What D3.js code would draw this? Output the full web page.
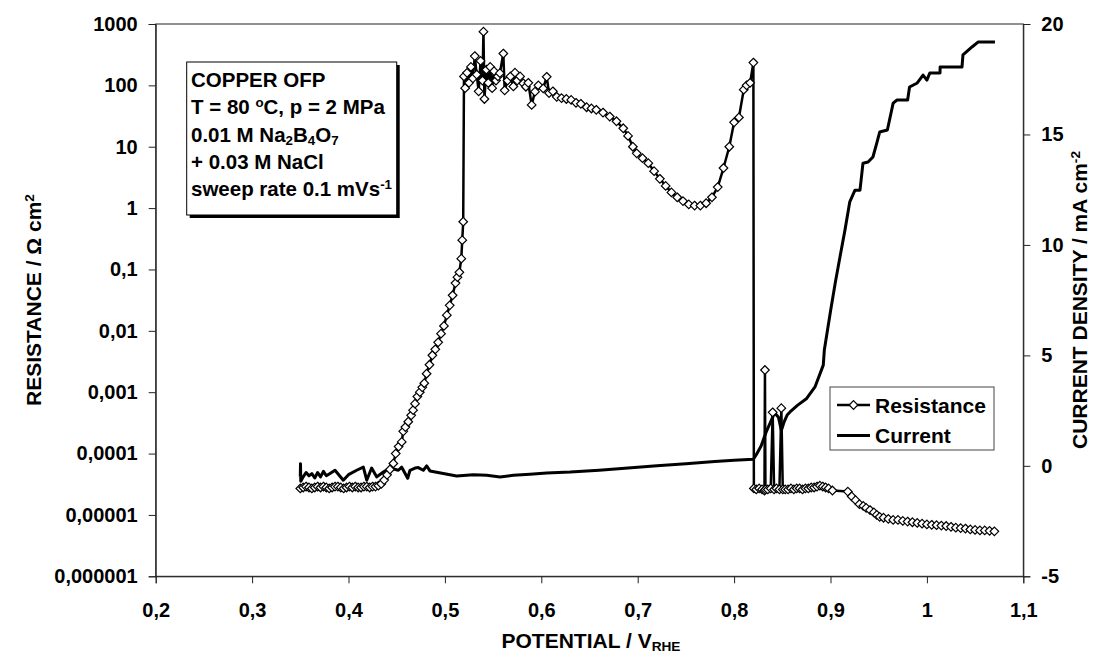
<!DOCTYPE html>
<html><head><meta charset="utf-8">
<script src="https://cdn.jsdelivr.net/npm/d3@7"></script>
<style>
body{margin:0;background:#fff}
text{font-family:"Liberation Sans",Arial,sans-serif;font-weight:bold;fill:#000}
</style>
</head><body>
<svg id="c" width="1099" height="657"></svg>
<script>
// ---- data ----
const potentialR = [
0.350,0.353,0.356,0.359,0.362,0.365,0.368,0.371,0.374,0.377,
0.380,0.383,0.386,0.389,0.392,0.395,0.398,0.401,0.404,0.407,
0.410,0.413,0.416,0.419,0.422,0.425,0.428,0.431,0.434,0.437,
0.440,0.443,0.4465,0.449,0.452,0.4552,0.4568,0.459,0.462,0.465,
0.467,0.469,0.4714,0.474,0.4765,0.4786,0.481,0.484,0.487,0.490,
0.493,0.496,0.499,0.502,0.505,0.508,0.511,0.513,0.515,0.517,
0.518,0.519,0.5198,0.521,0.523,0.525,0.527,0.529,0.531,0.533,
0.535,0.537,0.539,0.540,0.541,0.543,0.545,0.547,0.549,0.551,
0.553,0.555,0.557,0.5606,0.562,0.565,0.568,0.571,0.5727,0.575,
0.578,0.5813,0.584,0.5865,0.590,0.5935,0.597,0.602,0.6056,0.608,
0.612,0.616,0.621,0.626,0.631,0.636,0.641,0.647,0.652,0.657,
0.664,0.671,0.678,0.685,0.690,0.695,0.699,0.705,0.711,0.717,
0.723,0.729,0.735,0.741,0.747,0.753,0.759,0.765,0.771,0.777,
0.783,0.789,0.795,0.800,0.805,0.810,0.813,0.8166,0.820,0.8205,
0.823,0.826,0.829,0.8315,0.832,0.8325,0.835,0.838,0.840,0.8415,
0.844,0.847,0.849,0.8505,0.853,0.856,0.859,0.862,0.865,0.868,
0.871,0.874,0.877,0.880,0.883,0.886,0.889,0.892,0.895,0.898,
0.902,0.918,0.922,0.926,0.930,0.934,0.937,0.941,0.945,0.948,
0.951,0.955,0.960,0.965,0.970,0.975,0.980,0.985,0.990,0.995,
1.000,1.005,1.010,1.015,1.020,1.025,1.030,1.035,1.040,1.045,
1.050,1.055,1.060,1.065,1.070
];
const resistance = [
2.7e-5,2.8e-5,2.9e-5,2.8e-5,2.7e-5,2.8e-5,2.9e-5,2.8e-5,2.9e-5,2.8e-5,
2.7e-5,2.8e-5,2.9e-5,2.9e-5,2.8e-5,2.7e-5,2.8e-5,2.9e-5,2.8e-5,2.9e-5,
2.8e-5,2.8e-5,2.9e-5,2.9e-5,2.8e-5,2.9e-5,2.9e-5,3.0e-5,3.2e-5,3.7e-5,
4.5e-5,5.5e-5,6.9e-5,1.0e-4,1.3e-4,1.55e-4,2.3e-4,2.7e-4,3.3e-4,4.2e-4,
5.1e-4,6.5e-4,8.5e-4,1.0e-3,1.2e-3,1.4e-3,2.0e-3,2.8e-3,4.0e-3,5.0e-3,
6.5e-3,9.0e-3,1.2e-2,1.8e-2,2.6e-2,3.8e-2,6.0e-2,7.5e-2,9.0e-2,0.15,
0.3,0.6,140,90,160,110,200,130,300,150,
80,250,120,750,60,180,110,200,90,170,
120,140,158,330,83,120,140,96,161,120,
140,108,95,110,48,79,100,89,138,75,
80,65,62,60,58,52,50,44,42,40,
36,31,26,20,15,10,7.8,6.5,5.4,4.0,
3.0,2.3,1.8,1.5,1.3,1.15,1.1,1.1,1.2,1.5,
2.2,4.5,10,25,30,85,100,110,235,2.7e-5,
2.6e-5,2.7e-5,2.6e-5,2.5e-5,2.3e-3,2.6e-5,2.6e-5,2.7e-5,4.7e-4,2.6e-5,
2.7e-5,2.6e-5,5.5e-4,2.6e-5,2.6e-5,2.6e-5,2.7e-5,2.6e-5,2.7e-5,2.7e-5,
2.6e-5,2.7e-5,2.7e-5,2.8e-5,2.8e-5,2.9e-5,3.0e-5,2.9e-5,2.8e-5,2.7e-5,
2.5e-5,2.4e-5,2.0e-5,1.74e-5,1.5e-5,1.4e-5,1.3e-5,1.2e-5,1.1e-5,1.0e-5,
9.3e-6,9.0e-6,8.6e-6,8.3e-6,8.3e-6,8.0e-6,7.8e-6,7.6e-6,7.4e-6,7.2e-6,
7.0e-6,6.9e-6,6.8e-6,6.7e-6,6.6e-6,6.4e-6,6.2e-6,6.1e-6,6.0e-6,5.8e-6,
5.7e-6,5.6e-6,5.6e-6,5.5e-6,5.4e-6
];
const potentialI = [
0.350,0.3502,0.3505,0.353,0.356,0.359,0.362,0.365,0.368,0.371,
0.374,0.377,0.3808,0.386,0.3946,0.400,0.4085,0.4154,0.4189,0.424,
0.4293,0.4361,0.443,0.4517,0.4552,0.4614,0.4638,0.469,0.4724,0.4776,
0.4811,0.4845,0.4983,0.5122,0.5295,0.5434,0.5572,0.571,0.5883,0.6056,
0.63,0.66,0.69,0.72,0.75,0.78,0.80,0.82,0.823,0.828,
0.833,0.838,0.842,0.846,0.849,0.852,0.855,0.858,0.866,0.8753,
0.8839,0.8925,0.8936,0.900,0.905,0.910,0.915,0.920,0.9254,0.9306,
0.9337,0.939,0.944,0.948,0.951,0.959,0.965,0.969,0.980,0.982,
0.990,0.996,1.000,1.003,1.0136,1.0137,1.0364,1.0374,1.0468,1.053,
1.0706
];
const currentDensity = [
-0.5,0.1,-0.7,-0.5,-0.3,-0.45,-0.35,-0.55,-0.3,-0.5,
-0.25,-0.45,-0.35,-0.2,-0.65,-0.4,-0.2,-0.06,-0.65,-0.1,
-0.5,-0.28,-0.1,-0.2,-0.06,-0.56,-0.2,-0.1,-0.08,-0.2,
0.0,-0.23,-0.35,-0.46,-0.4,-0.43,-0.5,-0.43,-0.38,-0.32,
-0.28,-0.2,-0.1,0.0,0.1,0.2,0.25,0.3,0.5,0.9,
1.5,2.0,2.4,2.2,1.6,2.0,2.3,2.44,2.75,3.05,
3.57,4.56,5.24,7.0,8.3,9.5,10.67,11.95,12.48,12.48,
13.70,13.75,13.98,14.61,15.11,15.2,16.42,16.56,16.56,17.15,
17.33,17.69,17.46,17.78,17.78,18.05,18.05,18.6,18.96,19.18,
19.18
];
const xTicks = [0.2,0.3,0.4,0.5,0.6,0.7,0.8,0.9,1.0,1.1];
const xTickLabels = ["0,2","0,3","0,4","0,5","0,6","0,7","0,8","0,9","1","1,1"];
const leftTicks = [1000,100,10,1,0.1,0.01,0.001,0.0001,0.00001,0.000001];
const leftTickLabels = ["1000","100","10","1","0,1","0,01","0,001","0,0001","0,00001","0,000001"];
const rightTicks = [-5,0,5,10,15,20];
const seriesNames = ["Resistance","Current"];
const noteLines = [
  [["COPPER OFP",""]],
  [["T = 80 ",""],["o","sup"],["C, p = 2 MPa",""]],
  [["0.01 M Na",""],["2","sub"],["B",""],["4","sub"],["O",""],["7","sub"]],
  [["+ 0.03 M NaCl",""]],
  [["sweep rate 0.1 mVs",""],["-1","sup"]]
];

// ---- layout ----
const L = 155.7, R = 1023.3, T = 24, B = 576.3;
const svg = d3.select("#c");
const x = d3.scaleLinear().domain([0.2,1.1]).range([L,R]);
const yL = d3.scaleLog().domain([1e-6,1e3]).range([B,T]);
const yR = d3.scaleLinear().domain([-5,20]).range([B,T]);

function rich(sel, parts){
  parts.forEach(([s,m])=>{
    const t = sel.append("tspan").text(s);
    if(m==="sup") t.attr("baseline-shift","7").attr("font-size","65%");
    if(m==="sub") t.attr("baseline-shift","-3").attr("font-size","65%");
  });
}

// frame
svg.append("rect").attr("x",L).attr("y",T).attr("width",R-L).attr("height",B-T)
  .attr("fill","none").attr("stroke","#222").attr("stroke-width",1);

// axes
const axL = svg.append("g").attr("transform",`translate(${L},0)`)
  .call(d3.axisLeft(yL).tickValues(leftTicks).tickFormat((d,i)=>leftTickLabels[i]).tickSize(7).tickPadding(11));
const axR = svg.append("g").attr("transform",`translate(${R},0)`)
  .call(d3.axisRight(yR).tickValues(rightTicks).tickFormat(d=>String(d)).tickSize(7).tickPadding(11));
const axB = svg.append("g").attr("transform",`translate(0,${B})`)
  .call(d3.axisBottom(x).tickValues(xTicks).tickFormat((d,i)=>xTickLabels[i]).tickSize(7).tickPadding(20));
[axL,axR,axB].forEach(g=>{
  g.select(".domain").attr("stroke","#222");
  g.selectAll(".tick line").attr("stroke","#222");
  g.selectAll("text").attr("font-size",20).attr("font-family",'"Liberation Sans",Arial,sans-serif').attr("font-weight","bold").attr("fill","#000");
});

// axis titles
const tl = svg.append("text").attr("transform","translate(41,300) rotate(-90)").attr("text-anchor","middle").attr("font-size",21);
rich(tl, [["RESISTANCE / Ω cm",""],["2","sup"]]);
const tr = svg.append("text").attr("transform","translate(1087,300) rotate(-90)").attr("text-anchor","middle").attr("font-size",21);
rich(tr, [["CURRENT DENSITY / mA cm",""],["-2","sup"]]);
const tb = svg.append("text").attr("x",591).attr("y",648).attr("text-anchor","middle").attr("font-size",21);
rich(tb, [["POTENTIAL / V",""],["RHE","sub"]]);

// data series
const resData = potentialR.map((p,i)=>({p, v:resistance[i]}));
const curData = potentialI.map((p,i)=>({p, v:currentDensity[i]}));
svg.append("defs").append("clipPath").attr("id","pc").append("rect")
  .attr("x",L).attr("y",T-1).attr("width",R-L).attr("height",B-T+2);
const plot = svg.append("g").attr("clip-path","url(#pc)");

plot.append("path").datum(curData)
  .attr("d", d3.line().x(d=>x(d.p)).y(d=>yR(d.v)))
  .attr("fill","none").attr("stroke","#000").attr("stroke-width",3).attr("stroke-linejoin","round");
plot.append("path").datum(resData)
  .attr("d", d3.line().x(d=>x(d.p)).y(d=>yL(d.v)))
  .attr("fill","none").attr("stroke","#000").attr("stroke-width",2.5).attr("stroke-linejoin","round");
const dia = r => `M0,${-r}L${r},0L0,${r}L${-r},0Z`;
plot.selectAll("path.mk").data(resData).join("path").attr("class","mk")
  .attr("transform",d=>`translate(${x(d.p)},${yL(d.v)})`)
  .attr("d",dia(4.3)).attr("fill","#fff").attr("stroke","#000").attr("stroke-width",1.2);

// annotation box
const nb = svg.append("g");
const shadow = nb.append("rect").attr("fill","#000");
const box = nb.append("rect").attr("fill","#fff").attr("stroke","#000").attr("stroke-width",1);
let maxW = 0;
noteLines.forEach((ln,i)=>{
  const t = nb.append("text").attr("x",191).attr("y",87+i*27.3).attr("font-size",20.5);
  rich(t, ln);
  maxW = Math.max(maxW, t.node().getComputedTextLength());
});
const bx=186.7, by=62, bw=maxW+9, bh=153;
box.attr("x",bx).attr("y",by).attr("width",bw).attr("height",bh);
shadow.attr("x",bx+3).attr("y",by+3).attr("width",bw).attr("height",bh);
box.lower(); shadow.lower();

// legend
const lg = svg.append("g");
lg.append("rect").attr("x",830).attr("y",387).attr("width",164).attr("height",63)
  .attr("fill","#fff").attr("stroke","#444").attr("stroke-width",1);
seriesNames.forEach((n,i)=>{
  const yy = 405 + i*30.5;
  lg.append("line").attr("x1",837).attr("x2",870).attr("y1",yy).attr("y2",yy)
    .attr("stroke","#000").attr("stroke-width",i===0?2.5:3);
  if(i===0) lg.append("path").attr("transform",`translate(853.5,${yy})`).attr("d",dia(4.3))
    .attr("fill","#fff").attr("stroke","#000").attr("stroke-width",1.2);
  lg.append("text").attr("x",875).attr("y",yy+7.5).attr("font-size",21).text(n);
});
</script>
</body></html>
